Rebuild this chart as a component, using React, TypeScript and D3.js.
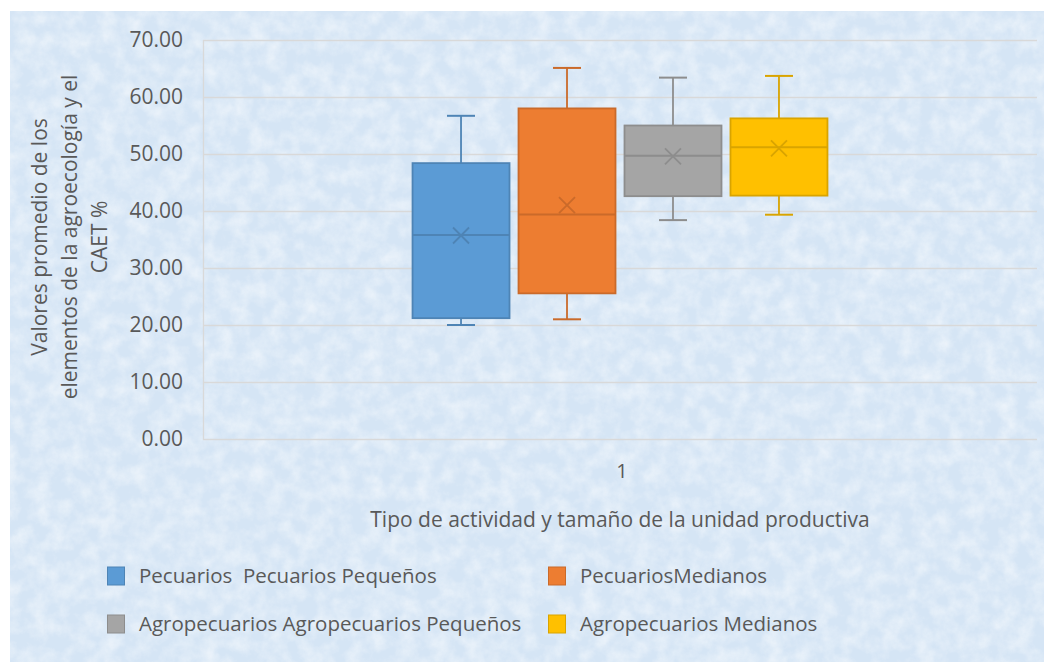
import { useEffect, useRef } from 'react';
import * as d3 from 'd3';

// chart data
const categories = ['1'];
const seriesNames = [
  'Pecuarios  Pecuarios Pequeños',
  'PecuariosMedianos',
  'Agropecuarios Agropecuarios Pequeños',
  'Agropecuarios Medianos',
];
const seriesColors = ['#5B9BD5', '#ED7D31', '#A5A5A5', '#FFC000'];
const whiskerLow = [20.0, 21.0, 38.4, 39.35];
const q1 = [21.2, 25.55, 42.6, 42.7];
const median = [35.8, 39.4, 49.7, 51.2];
const q3 = [48.4, 58.0, 55.0, 56.25];
const whiskerHigh = [56.7, 65.1, 63.4, 63.7];
const mean = [35.7, 41.05, 49.6, 51.0];
const yTicks = [0, 10, 20, 30, 40, 50, 60, 70];
const yTitleLines = ['Valores promedio de los', 'elementos de la agroecología y el', 'CAET %'];
const xTitle = 'Tipo de actividad y tamaño de la unidad productiva';

const FONT = '"Open Sans", "Noto Sans", sans-serif';
const TEXT = '#595959';

export default function App() {
  const svgRef = useRef<SVGSVGElement>(null);

  useEffect(() => {
    document.body.style.margin = '0';
    if (!svgRef.current) return;

    const W = 1044;
    const H = 664;
    const svg = d3.select(svgRef.current);
    svg.selectAll('*').remove();
    svg.attr('width', W).attr('height', H);

    // textured light blue paper background
    const defs = svg.append('defs');
    const f = defs
      .append('filter')
      .attr('id', 'paper')
      .attr('x', 0)
      .attr('y', 0)
      .attr('width', '100%')
      .attr('height', '100%');
    f.append('feTurbulence')
      .attr('type', 'fractalNoise')
      .attr('baseFrequency', '0.06')
      .attr('numOctaves', 4)
      .attr('seed', 11)
      .attr('result', 'noise');
    f.append('feColorMatrix')
      .attr('in', 'noise')
      .attr('type', 'matrix')
      .attr('values', '0 0 0 0 1  0 0 0 0 1  0 0 0 0 1  0 0 0 1.5 -0.5');

    svg.append('rect').attr('width', W).attr('height', H).attr('fill', '#ffffff');
    svg
      .append('rect')
      .attr('x', 10)
      .attr('y', 11)
      .attr('width', W - 10)
      .attr('height', H - 13)
      .attr('fill', '#d5e5f5');
    svg
      .append('rect')
      .attr('x', 10)
      .attr('y', 11)
      .attr('width', W - 10)
      .attr('height', H - 13)
      .attr('filter', 'url(#paper)')
      .attr('opacity', 0.6);

    const margin = { top: 40, right: 7, bottom: 225, left: 203 };
    const width = W - margin.left - margin.right;
    const height = H - margin.top - margin.bottom;

    const g = svg.append('g').attr('transform', `translate(${margin.left},${margin.top})`);

    const y = d3.scaleLinear().domain([0, 70]).range([height, 0]);

    const x0 = d3
      .scaleBand<string>()
      .domain(categories)
      .range([0, width])
      .paddingInner(0)
      .paddingOuter(0.505);

    const x1 = d3
      .scaleBand<string>()
      .domain(seriesNames)
      .range([0, x0.bandwidth()])
      .paddingInner(0.085)
      .paddingOuter(0);

    // gridlines + plot border
    g.selectAll('.grid')
      .data(yTicks)
      .enter()
      .append('line')
      .attr('x1', 0)
      .attr('x2', width)
      .attr('y1', (d) => Math.round(y(d)) + 0.5)
      .attr('y2', (d) => Math.round(y(d)) + 0.5)
      .attr('stroke', '#d9d9d9')
      .attr('stroke-width', 1.3);
    g.append('line')
      .attr('x1', 0.5)
      .attr('x2', 0.5)
      .attr('y1', y(70))
      .attr('y2', y(0) + 0.5)
      .attr('stroke', '#d9d9d9')
      .attr('stroke-width', 1.3);

    // y tick labels
    g.selectAll('.ytick')
      .data(yTicks)
      .enter()
      .append('text')
      .attr('x', -20)
      .attr('y', (d) => y(d))
      .attr('dy', '0.35em')
      .attr('text-anchor', 'end')
      .attr('font-family', FONT)
      .attr('font-size', '21px')
      .attr('fill', TEXT)
      .text((d) => d3.format('.2f')(d));

    // category label
    g.selectAll('.xtick')
      .data(categories)
      .enter()
      .append('text')
      .attr('x', (d) => (x0(d) || 0) + x0.bandwidth() / 2 + 2)
      .attr('y', height + 39)
      .attr('text-anchor', 'middle')
      .attr('font-family', FONT)
      .attr('font-size', '20px')
      .attr('fill', TEXT)
      .text((d) => d);

    // boxes
    const capW = 28;
    const idx = d3.range(seriesNames.length);
    const groups = g
      .selectAll('.box')
      .data(idx)
      .enter()
      .append('g')
      .attr('transform', (i) => `translate(${(x0(categories[0]) || 0) + (x1(seriesNames[i]) || 0)},0)`);

    const bw = x1.bandwidth();
    const dark = (i: number) => d3.color(seriesColors[i])!.darker(0.45).formatHex();

    // whiskers
    groups
      .append('line')
      .attr('x1', bw / 2)
      .attr('x2', bw / 2)
      .attr('y1', (i) => y(whiskerHigh[i]))
      .attr('y2', (i) => y(q3[i]))
      .attr('stroke', (i) => dark(i))
      .attr('stroke-width', 1.8);
    groups
      .append('line')
      .attr('x1', bw / 2)
      .attr('x2', bw / 2)
      .attr('y1', (i) => y(q1[i]))
      .attr('y2', (i) => y(whiskerLow[i]))
      .attr('stroke', (i) => dark(i))
      .attr('stroke-width', 1.8);
    groups
      .append('line')
      .attr('x1', bw / 2 - capW / 2)
      .attr('x2', bw / 2 + capW / 2)
      .attr('y1', (i) => y(whiskerHigh[i]))
      .attr('y2', (i) => y(whiskerHigh[i]))
      .attr('stroke', (i) => dark(i))
      .attr('stroke-width', 2);
    groups
      .append('line')
      .attr('x1', bw / 2 - capW / 2)
      .attr('x2', bw / 2 + capW / 2)
      .attr('y1', (i) => y(whiskerLow[i]))
      .attr('y2', (i) => y(whiskerLow[i]))
      .attr('stroke', (i) => dark(i))
      .attr('stroke-width', 2);

    groups
      .append('rect')
      .attr('x', 0)
      .attr('y', (i) => y(q3[i]))
      .attr('width', bw)
      .attr('height', (i) => y(q1[i]) - y(q3[i]))
      .attr('fill', (i) => seriesColors[i])
      .attr('stroke', (i) => dark(i))
      .attr('stroke-width', 1.8);

    groups
      .append('line')
      .attr('x1', 0)
      .attr('x2', bw)
      .attr('y1', (i) => y(median[i]))
      .attr('y2', (i) => y(median[i]))
      .attr('stroke', (i) => dark(i))
      .attr('stroke-width', 2);

    // mean marker (x)
    const m = 8;
    groups
      .append('path')
      .attr('d', (i) => {
        const cx = bw / 2;
        const cy = y(mean[i]);
        return `M${cx - m},${cy - m}L${cx + m},${cy + m}M${cx - m},${cy + m}L${cx + m},${cy - m}`;
      })
      .attr('fill', 'none')
      .attr('stroke', (i) => dark(i))
      .attr('stroke-width', 1.8);

    // axis titles
    svg
      .append('text')
      .attr('x', margin.left + width / 2)
      .attr('y', 527)
      .attr('text-anchor', 'middle')
      .attr('font-family', FONT)
      .attr('font-size', '21px')
      .attr('fill', TEXT)
      .text(xTitle);

    const yt = svg
      .append('text')
      .attr('transform', 'translate(0,237) rotate(-90)')
      .attr('text-anchor', 'middle')
      .attr('font-family', FONT)
      .attr('font-size', '21px')
      .attr('fill', TEXT);
    yTitleLines.forEach((line, i) => {
      yt.append('tspan')
        .attr('x', 0)
        .attr('y', 47 + i * 30)
        .text(line);
    });

    // legend
    const legendPos = [
      [107, 576],
      [548, 576],
      [107, 624],
      [548, 624],
    ];
    const lg = svg
      .selectAll('.legend')
      .data(idx)
      .enter()
      .append('g')
      .attr('transform', (i) => `translate(${legendPos[i][0]},${legendPos[i][1]})`);
    lg.append('rect')
      .attr('x', 0.5)
      .attr('y', -9)
      .attr('width', 17)
      .attr('height', 18)
      .attr('fill', (i) => seriesColors[i])
      .attr('stroke', (i) => dark(i))
      .attr('stroke-width', 1);
    lg.append('text')
      .attr('x', 32)
      .attr('y', 0)
      .attr('dy', '0.35em')
      .attr('font-family', FONT)
      .attr('font-size', '20.5px')
      .attr('fill', TEXT)
      .style('white-space', 'pre')
      .text((i) => seriesNames[i]);
  }, []);

  return <svg ref={svgRef} style={{ display: 'block' }} />;
}
